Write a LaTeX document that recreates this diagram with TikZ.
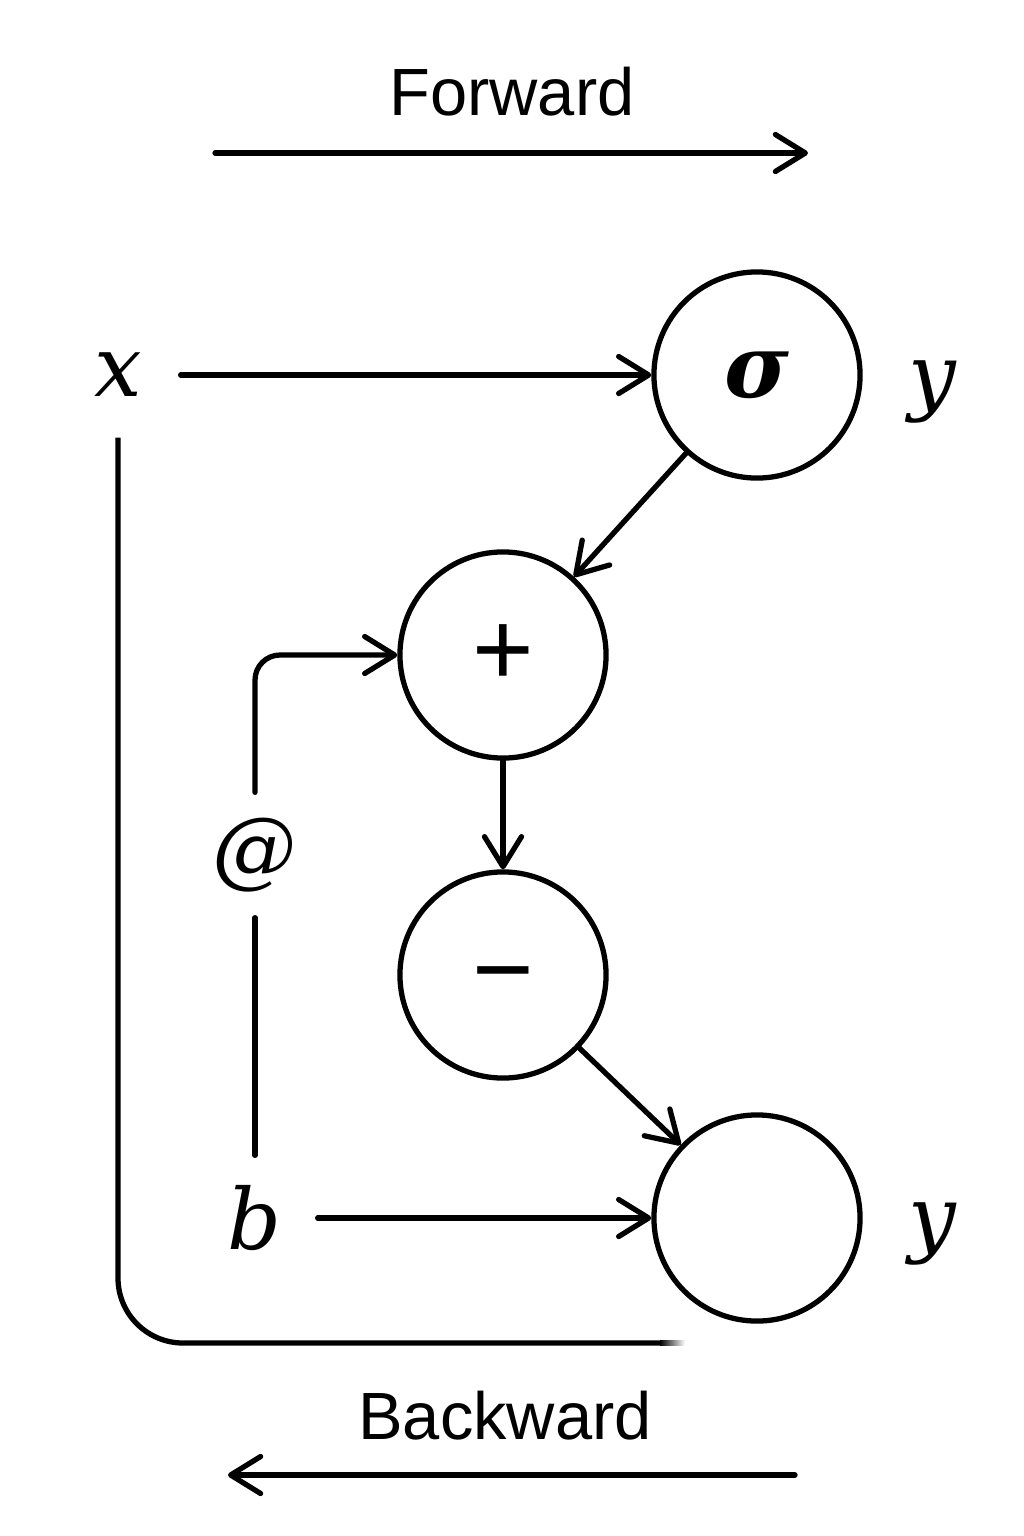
\documentclass[tikz,border=0pt]{standalone}
\usepackage{amsmath}
\usepackage{fontspec}
\newfontfamily\labelfont{Liberation Sans}
\newfontfamily\varfont{DejaVu Serif}
\usetikzlibrary{arrows.meta,positioning}

\begin{document}
\begin{tikzpicture}[
		x=0.01cm,y=-0.01cm,
		line width=1.5pt,
		edge/.style={-{Straight Barb[length=3mm,width=3.7mm,round]},line cap=round},
		op/.style={circle,draw,minimum size=2.06cm,inner sep=0pt,font=\labelfont\fontsize{30}{32}\selectfont},
		var/.style={circle,minimum size=1.2cm,inner sep=0pt,font=\varfont\itshape\fontsize{24}{28}\selectfont},
		title/.style={font=\labelfont\fontsize{19}{22}\selectfont}]
		% Canvas
		\useasboundingbox (0,0) rectangle (1024,1536);
		
		% Direction labels
		\node[title] (fwd) at (512,92) {Forward};
		\draw[edge] (215,153) coordinate (fwdA) -- (808,153) coordinate (fwdB);
		\node[title] (bwd) at (505,1416) {Backward};
		\draw[edge] (795,1475) coordinate (bwdA) -- (228,1475) coordinate (bwdB);
		
		% Graph nodes
		\node[var] (x) at (118,375) {x};
		\node[op,font=\varfont\bfseries\itshape\fontsize{25}{28}\selectfont] (sigma) at (757,375) {σ};
		\node[var] (ysig) at (932,392) {y};
		\node[op] (plus) at (503,655) {+};
		\node[op] (minus) at (503,975) {\vphantom{+}−};
		\node[op] (out) at (757,1218) {};
		\node[var] (yout) at (932,1234) {y};
		\node[var] (b) at (255,1218) {b};
		\node[var] (at) at (255,855) {@};
		\coordinate (xend) at (660,1343);
		
		% Connectors
		\draw[edge] (x) -- (sigma);
		\draw[edge] (sigma) -- (plus);
		\draw[edge] (plus) -- (minus);
		\draw[edge] (minus) -- (out);
		\draw[edge] (b) -- (out);
		\draw[line cap=round] (b) -- (at);
		\draw[edge,rounded corners=0.25cm] (at) |- (plus);
		\draw[rounded corners=0.65cm] (x) |- (xend);
		\shade[left color=black,right color=white] ([yshift=-0.75pt]xend) rectangle ++(25,1.5pt);
		
\end{tikzpicture}
\end{document}
